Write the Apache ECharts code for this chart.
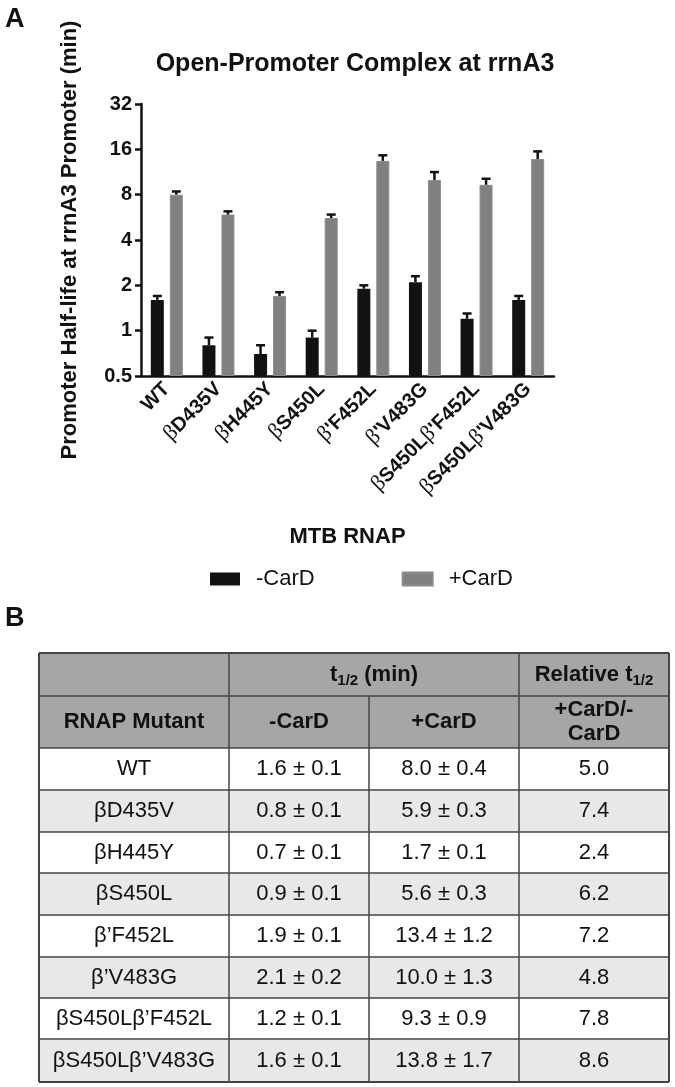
<!DOCTYPE html>
<html>
<head>
<meta charset="utf-8">
<script src="https://cdn.jsdelivr.net/npm/echarts@6/dist/echarts.min.js"></script>
<style>
html,body{margin:0;padding:0;background:#fff;}
#chart{width:675px;height:1087px;}
</style>
</head>
<body>
<div id="chart"></div>
<script>
// ---- Data ----
const categories = ['WT', 'βD435V', 'βH445Y', 'βS450L', "β'F452L", "β'V483G", "βS450Lβ'F452L", "βS450Lβ'V483G"];
const minusCarD = [1.6, 0.8, 0.7, 0.9, 1.9, 2.1, 1.2, 1.6];
const minusCarDErr = [0.1, 0.1, 0.1, 0.1, 0.1, 0.2, 0.1, 0.1];
const plusCarD = [8.0, 5.9, 1.7, 5.6, 13.4, 10.0, 9.3, 13.8];
const plusCarDErr = [0.4, 0.3, 0.1, 0.3, 1.2, 1.3, 0.9, 1.7];
const relativeT = [5.0, 7.4, 2.4, 6.2, 7.2, 4.8, 7.8, 8.6];
const tableMutants = ['WT', 'βD435V', 'βH445Y', 'βS450L', 'β’F452L', 'β’V483G', 'βS450Lβ’F452L', 'βS450Lβ’V483G'];
const yTicks = [0.5, 1, 2, 4, 8, 16, 32];

// ---- Layout / style ----
const FONT = '"Liberation Sans", Arial, Helvetica, sans-serif';
const BLACK = '#121212', GRAY = '#808080';
const chart = echarts.init(document.getElementById('chart'), null, {renderer: 'canvas'});

function xLabel(v) {
  return v.split(/(β)/).filter(s => s.length).map(s => s === 'β' ? '{g|β}' : '{b|' + s + '}').join('');
}

function errSeries(name, vals, errs, side) {
  return {
    type: 'custom', name: name, xAxisIndex: 0, yAxisIndex: 0, z: 5, silent: true,
    data: vals.map((v, i) => [i, v, v + errs[i]]),
    encode: {x: 0, y: [1, 2]},
    renderItem: function (params, api) {
      const base = api.coord([api.value(0), api.value(1)]);
      const top = api.coord([api.value(0), api.value(2)]);
      const x = base[0] + side * 9.5;
      return {type: 'group', children: [
        {type: 'line', shape: {x1: x, y1: base[1], x2: x, y2: top[1]}, style: {stroke: BLACK, lineWidth: 2.5}},
        {type: 'line', shape: {x1: x - 4.5, y1: top[1], x2: x + 4.5, y2: top[1]}, style: {stroke: BLACK, lineWidth: 2.5}}
      ]};
    }
  };
}

// ---- Table graphic ----
const colX = [39, 229, 369, 519, 669];
const rowY = [653, 696, 748, 790, 832, 873, 915, 957, 998, 1039, 1082];
const tbl = [];
const HDR = '#a6a6a6', ALT = '#e8e8e8', LINE = '#444';
tbl.push({type: 'rect', shape: {x: colX[0], y: rowY[0], width: colX[4] - colX[0], height: rowY[2] - rowY[0]}, style: {fill: HDR}});
for (let i = 0; i < tableMutants.length; i++) {
  tbl.push({type: 'rect', shape: {x: colX[0], y: rowY[i + 2], width: colX[4] - colX[0], height: rowY[i + 3] - rowY[i + 2]}, style: {fill: i % 2 ? ALT : '#fff'}});
}
for (let r = 0; r < rowY.length; r++) {
  tbl.push({type: 'line', shape: {x1: colX[0], y1: rowY[r], x2: colX[4], y2: rowY[r]}, style: {stroke: LINE, lineWidth: (r === 0 || r === rowY.length - 1) ? 2 : 1.5}});
}
[[0, 0], [1, 0], [2, 1], [3, 0], [4, 0]].forEach(([c, r0]) => {
  tbl.push({type: 'line', shape: {x1: colX[c], y1: rowY[r0], x2: colX[c], y2: rowY[rowY.length - 1]}, style: {stroke: LINE, lineWidth: (c === 0 || c === 4) ? 2 : 1.5}});
});
const hdrRich = {
  h: {fontFamily: FONT, fontWeight: 'bold', fontSize: 22, color: '#111', lineHeight: 26},
  s: {fontFamily: FONT, fontWeight: 'bold', fontSize: 15, color: '#111', lineHeight: 27, verticalAlign: 'bottom'}
};
function cellText(text, c0, c1, r, bold, rich) {
  const o = {type: 'text', x: (colX[c0] + colX[c1]) / 2, y: (rowY[r] + rowY[r + 1]) / 2,
    style: {text: text, fontFamily: FONT, fontSize: 22, fontWeight: bold ? 'bold' : 'normal', fill: '#111', align: 'center', verticalAlign: 'middle', lineHeight: 24}};
  if (rich) o.style.rich = rich;
  tbl.push(o);
}
cellText('{h|t}{s|1/2}{h| (min)}', 1, 3, 0, true, hdrRich);
cellText('{h|Relative t}{s|1/2}', 3, 4, 0, true, hdrRich);
cellText('RNAP Mutant', 0, 1, 1, true);
cellText('-CarD', 1, 2, 1, true);
cellText('+CarD', 2, 3, 1, true);
cellText('+CarD/-\nCarD', 3, 4, 1, true);
for (let i = 0; i < tableMutants.length; i++) {
  cellText(tableMutants[i], 0, 1, i + 2, false);
  cellText(minusCarD[i].toFixed(1) + ' ± ' + minusCarDErr[i].toFixed(1), 1, 2, i + 2, false);
  cellText(plusCarD[i].toFixed(1) + ' ± ' + plusCarDErr[i].toFixed(1), 2, 3, i + 2, false);
  cellText(relativeT[i].toFixed(1), 3, 4, i + 2, false);
}

const option = {
  animation: false,
  backgroundColor: '#fff',
  title: {
    text: 'Open-Promoter Complex at rrnA3', left: 350, top: 47, textAlign: 'center',
    textStyle: {fontFamily: FONT, fontWeight: 'bold', fontSize: 25, color: '#111'}
  },
  legend: {
    data: ['-CarD', '+CarD'], left: 205, top: 563, itemWidth: 30, itemHeight: 13, itemGap: 87,
    icon: 'rect',
    textStyle: {fontFamily: FONT, fontSize: 22, color: '#111', padding: [0, 0, 0, 11]}
  },
  grid: {left: 141, top: 104, width: 413, height: 272, containLabel: false},
  xAxis: {
    type: 'category', data: categories,
    name: 'MTB RNAP', nameLocation: 'middle', nameGap: 150,
    nameTextStyle: {fontFamily: FONT, fontWeight: 'bold', fontSize: 22, color: '#111'},
    axisLine: {lineStyle: {color: BLACK, width: 2.5}},
    axisTick: {alignWithLabel: true, length: 7, lineStyle: {color: BLACK, width: 2.5}},
    axisLabel: {
      rotate: 45, margin: 10, interval: 0, formatter: xLabel,
      rich: {
        b: {fontFamily: FONT, fontWeight: 'bold', fontSize: 20, color: '#111'},
        g: {fontFamily: '"Liberation Serif", "DejaVu Serif", serif', fontWeight: 'normal', fontSize: 22, color: '#111'}
      }
    }
  },
  yAxis: {
    type: 'log', logBase: 2, min: 0.5, max: 32, splitNumber: 6, startValue: 0.5,
    name: 'Promoter Half-life at rrnA3 Promoter (min)', nameLocation: 'middle', nameGap: 60,
    nameTextStyle: {fontFamily: FONT, fontWeight: 'bold', fontSize: 22, color: '#111'},
    axisLine: {show: true, lineStyle: {color: BLACK, width: 2.5}},
    axisTick: {show: true, length: 6, lineStyle: {color: BLACK, width: 2.5}},
    splitLine: {show: false},
    axisLabel: {
      margin: 9, fontFamily: FONT, fontWeight: 'bold', fontSize: 20, color: '#111',
      formatter: v => String(+(+v).toPrecision(3))
    }
  },
  series: [
    {name: '-CarD', type: 'bar', data: minusCarD, barWidth: 13, barGap: '46%', itemStyle: {color: BLACK}},
    {name: '+CarD', type: 'bar', data: plusCarD, barWidth: 13, barGap: '46%', itemStyle: {color: GRAY, borderColor: '#8c8c8c', borderWidth: 1}},
    errSeries('err-', minusCarD, minusCarDErr, -1),
    errSeries('err+', plusCarD, plusCarDErr, 1)
  ],
  graphic: [
    {type: 'text', left: 5, top: 6, style: {text: 'A', fontFamily: FONT, fontWeight: 'bold', fontSize: 27, fill: '#111'}},
    {type: 'text', left: 5, top: 605, style: {text: 'B', fontFamily: FONT, fontWeight: 'bold', fontSize: 27, fill: '#111'}},
    {type: 'group', children: tbl}
  ]
};
chart.setOption(option);
</script>
</body>
</html>
